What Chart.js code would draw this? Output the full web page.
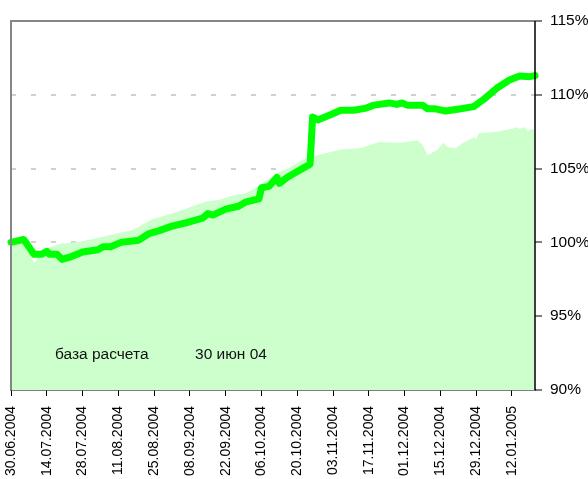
<!DOCTYPE html>
<html>
<head>
<meta charset="utf-8">
<script src="https://cdn.jsdelivr.net/npm/chart.js@4"></script>
<style>
html,body{margin:0;padding:0;background:#fff;}
#wrap{width:588px;height:479px;}
</style>
</head>
<body>
<div id="wrap"><canvas id="c" width="588" height="479"></canvas></div>
<script>
const dateLabels = ["30.06.2004","14.07.2004","28.07.2004","11.08.2004","25.08.2004","08.09.2004","22.09.2004","06.10.2004","20.10.2004","03.11.2004","17.11.2004","01.12.2004","15.12.2004","29.12.2004","12.01.2005"];
const yTicks = [90, 95, 100, 105, 110, 115];

const lineDays = [0,5,9,12,14,15,18,20,23,28,34,36,39,43,50,54,58,63,69,75,77,79,84,89,92,97,98,101,104,105,108,112,114,117,118,120,125,129,134,139,142,148,151,153,155,161,163,166,170,176,181,185,190,195,199,203,205];
const lineVals = [100.0,100.2,99.2,99.2,99.4,99.2,99.2,98.85,99.0,99.35,99.5,99.7,99.7,100.0,100.15,100.6,100.8,101.1,101.35,101.65,101.95,101.85,102.25,102.45,102.75,102.95,103.7,103.8,104.4,104.0,104.4,104.8,105.0,105.3,108.5,108.3,108.65,108.95,108.95,109.1,109.3,109.45,109.35,109.45,109.3,109.3,109.05,109.05,108.9,109.05,109.2,109.7,110.44,111.0,111.27,111.23,111.3];

const areaDays = [0,5,9,14,19,27,35,48,55,62,67,76,82,86,92,97,104,109,114,117,120,129,137,144,152,159,161,163,167,169,171,174,177,181,182,183,190,196,198,199,201,202,204,205];
const areaVals = [100.0,100.2,98.6,99.6,99.9,100.05,100.35,100.85,101.55,101.9,102.2,102.75,102.9,103.15,103.35,103.8,104.7,105.05,105.6,105.8,105.9,106.3,106.4,106.8,106.75,106.9,106.6,105.9,106.3,106.75,106.45,106.4,106.75,107.1,107.0,107.4,107.5,107.7,107.8,107.7,107.8,107.55,107.7,107.6];

const annotations = [
  {text: "база расчета", day: 17.2, value: 92.37},
  {text: "30 июн 04", day: 72, value: 92.37}
];

const FONT = "'Liberation Sans', Arial, sans-serif";

const framePlugin = {
  id: 'frame',
  afterDatasetsDraw(chart) {
    const {ctx, chartArea: a, scales} = chart;
    ctx.save();
    ctx.strokeStyle = '#868686';
    ctx.lineWidth = 2;
    ctx.beginPath();
    ctx.moveTo(a.left, a.bottom);
    ctx.lineTo(a.left, a.top);
    ctx.lineTo(a.right, a.top);
    ctx.stroke();
    ctx.strokeStyle = '#000';
    ctx.lineWidth = 1.5;
    ctx.beginPath();
    ctx.moveTo(a.right, a.top);
    ctx.lineTo(a.right, a.bottom);
    ctx.stroke();
    ctx.fillStyle = '#111';
    ctx.font = '15.5px ' + FONT;
    ctx.textBaseline = 'middle';
    ctx.textAlign = 'left';
    annotations.forEach(n => {
      ctx.fillText(n.text, scales.x.getPixelForValue(n.day), scales.y.getPixelForValue(n.value));
    });
    ctx.restore();
  }
};

new Chart(document.getElementById('c'), {
  type: 'line',
  data: {
    datasets: [
      {
        data: lineDays.map((d, i) => ({x: d, y: lineVals[i]})),
        borderColor: '#00ff00',
        borderWidth: 7,
        borderCapStyle: 'round',
        borderJoinStyle: 'round',
        pointRadius: 0,
        fill: false,
        tension: 0,
        clip: 6
      },
      {
        data: areaDays.map((d, i) => ({x: d, y: areaVals[i]})),
        borderColor: '#ccffcc',
        borderWidth: 0,
        backgroundColor: '#ccffcc',
        pointRadius: 0,
        fill: 'start',
        tension: 0
      }
    ]
  },
  options: {
    responsive: false,
    animation: false,
    events: [],
    layout: {padding: {left: 11, top: 21, right: 0, bottom: 0}},
    plugins: {legend: {display: false}, tooltip: {enabled: false}},
    scales: {
      x: {
        type: 'linear',
        min: 0,
        max: 205,
        afterBuildTicks: s => { s.ticks = dateLabels.map((_, i) => ({value: i * 14})); },
        afterFit: s => { s.height = 89; },
        ticks: {
          autoSkip: false,
          minRotation: 90,
          maxRotation: 90,
          padding: 10,
          color: '#000',
          font: {family: FONT, size: 14},
          callback: (v) => dateLabels[Math.round(v / 14)]
        },
        grid: {drawOnChartArea: false, drawTicks: true, tickLength: 6, tickColor: '#000', tickWidth: 1},
        border: {display: true, color: '#000', width: 1.5}
      },
      y: {
        position: 'right',
        min: 90,
        max: 115,
        afterBuildTicks: s => { s.ticks = yTicks.map(v => ({value: v})); },
        afterFit: s => { s.width = 53; },
        ticks: {
          padding: 8,
          color: '#000',
          font: {family: FONT, size: 15.5},
          callback: v => v + '%'
        },
        grid: {
          drawOnChartArea: true,
          tickLength: 7,
          tickColor: '#000',
          tickWidth: 1,
          lineWidth: 2,
          color: ctx => (ctx.tick && (ctx.tick.value === 90 || ctx.tick.value === 115)) ? 'rgba(0,0,0,0)' : '#d0d0d0'
        },
        border: {display: false, dash: [5, 15]}
      }
    }
  },
  plugins: [framePlugin]
});
</script>
</body>
</html>
